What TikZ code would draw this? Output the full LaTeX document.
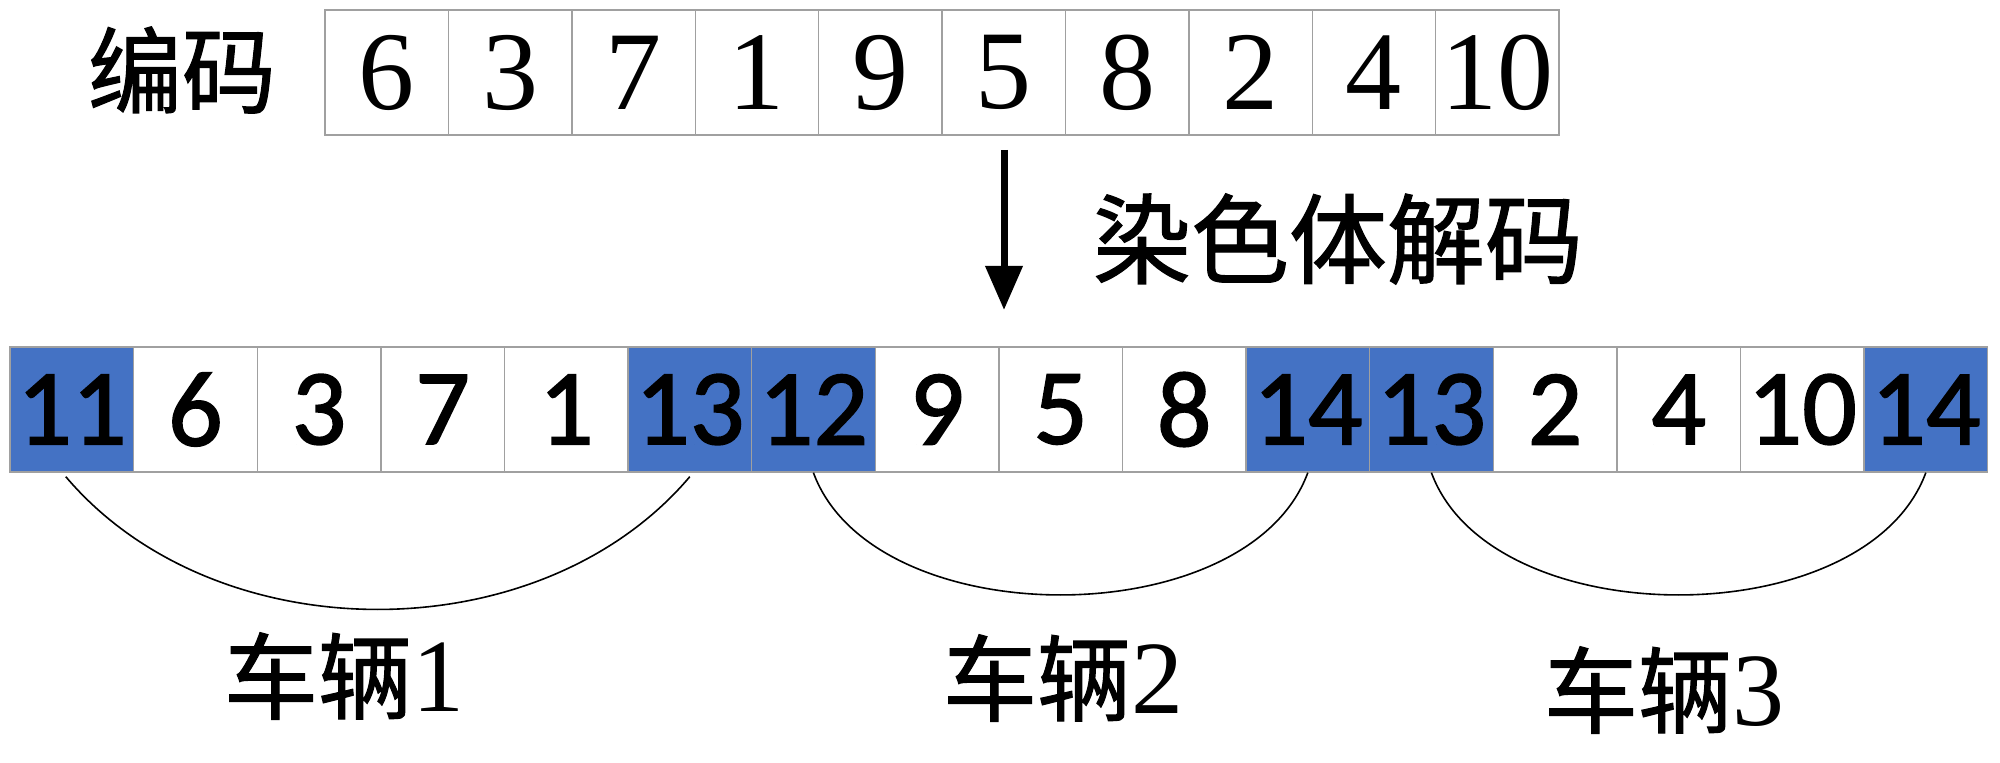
\documentclass[tikz,border=0pt]{standalone}
\usepackage{fontspec}
\setmainfont{Liberation Serif}
\newfontfamily\cjk[FakeBold=1.2]{Noto Sans CJK SC}
\newfontfamily\carlito[FakeBold=1.5]{Carlito}
\usetikzlibrary{arrows.meta}
\definecolor{cellblue}{HTML}{4472C4}
\definecolor{cellline}{HTML}{A0A0A0}
\begin{document}
\begin{tikzpicture}[x=0.5pt,y=-0.5pt,
  topcell/.style={draw=cellline, line width=0.7pt, minimum width=61.7pt, minimum height=62.5pt, inner sep=0pt, font=\fontsize{56}{56}\selectfont},
  botcell/.style={draw=cellline, line width=0.7pt, minimum width=61.8pt, minimum height=62.5pt, inner sep=0pt, font=\carlito\fontsize{54}{54}\selectfont},
  cjklabel/.style={inner sep=0pt, font=\cjk\fontsize{47}{47}\selectfont},
  linkarc/.style={black, line width=0.8pt},
  bigarrow/.style={black, line width=3.5pt, -{Triangle[length=22pt,width=18pt]}}
]
\fill[white] (0,0) rectangle (2000,763);
\useasboundingbox (0,0) rectangle (2000,763);

% top row
\node[cjklabel] (enc) at (182,70) {编码};
\foreach \v [count=\i] in {6,3,7,1,9,5,8,2,4,10}
  \node[topcell] (t\i) at ({325+(\i-0.5)*123.4},72.5) {\v};

% arrow
\coordinate (arrS) at (1004,150);
\coordinate (arrE) at (1004,310);
\draw[bigarrow] (arrS) -- (arrE);
\node[cjklabel, font=\cjk\fontsize{49}{49}\selectfont] (dec) at (1338,239) {染色体解码};

% bottom row
\foreach \v/\c [count=\i] in {11/cellblue,6/white,3/white,7/white,1/white,13/cellblue,12/cellblue,9/white,5/white,8/white,14/cellblue,13/cellblue,2/white,4/white,10/white,14/cellblue}
  \node[botcell, fill=\c] (b\i) at ({10+(\i-0.5)*123.6},409.5) {\v};

% arcs
\draw[linkarc] ([xshift=-3pt,yshift=-2pt]b1.south) .. controls +(150,177) and +(-150,177) .. ([yshift=-2pt]b6.south);
\draw[linkarc] (b7.south) .. controls +(60,163) and +(-60,163) .. (b11.south);
\draw[linkarc] (b12.south) .. controls +(60,163) and +(-60,163) .. (b16.south);

% labels
\node[cjklabel] (v1) at (344,676) {车辆\rmfamily\fontsize{52}{52}\selectfont 1};
\node[cjklabel] (v2) at (1063,678) {车辆\rmfamily\fontsize{52}{52}\selectfont 2};
\node[cjklabel] (v3) at (1664,690) {车辆\rmfamily\fontsize{52}{52}\selectfont 3};
\end{tikzpicture}
\end{document}
